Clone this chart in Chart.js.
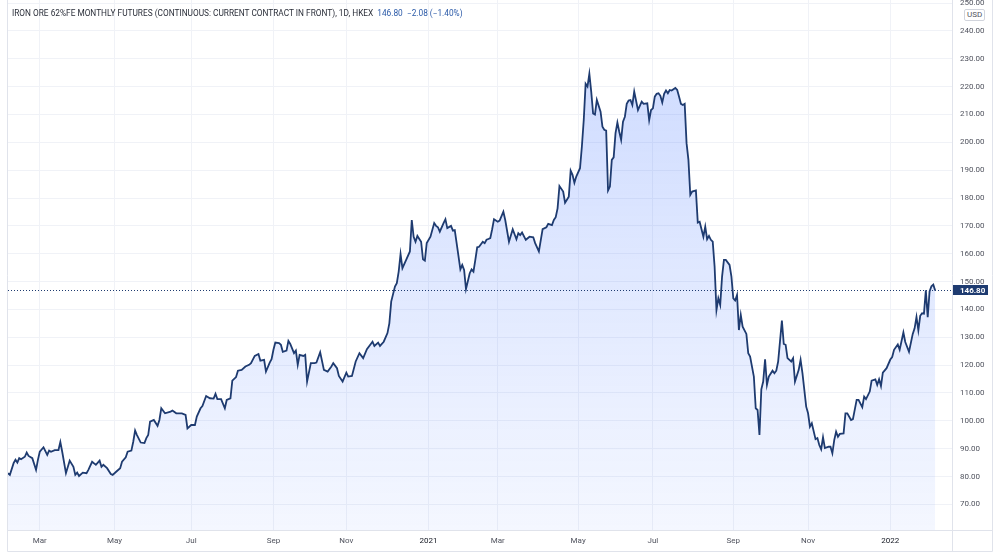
<!DOCTYPE html>
<html>
<head>
<meta charset="utf-8">
<script src="https://cdn.jsdelivr.net/npm/chart.js@4/dist/chart.umd.min.js"></script>
<style>
  html, body { margin: 0; padding: 0; background: #fff; }
  #wrap { position: relative; width: 1000px; height: 558px; }
  #title { position: absolute; left: 12px; top: 8px; font: 8.3px Roboto, sans-serif; color: #2a2e39; white-space: nowrap; }
  #title .quote { color: #2b5aa8; margin-left: 4px; }
  #usd { position: absolute; left: 964px; top: 9px; font: 8px Roboto, sans-serif; color: #50535e; background: #fff;
         border: 1px solid #d1d4dc; border-radius: 2px; padding: 0 2px; line-height: 10px; }
</style>
</head>
<body>
<div id="wrap">
  <canvas id="ironChart" width="1000" height="558"></canvas>
  <div id="title"></div>
  <div id="usd">USD</div>
</div>
<script>
// trading-session number (bar index from the first bar) and close price
const sessions = [0,1,3,4,5,6,7,9,10,11,13,15,16,17,19,21,22,23,25,27,28,29,31,33,35,36,37,38,40,42,43,45,47,49,50,51,53,55,56,58,60,61,63,64,66,67,68,69,71,73,74,75,76,78,80,81,82,84,87,88,90,93,95,96,98,100,101,103,104,106,108,110,111,112,114,116,117,119,120,122,123,125,127,129,130,132,134,135,137,138,140,141,142,143,145,146,147,149,150,151,153,154,155,156,158,159,160,162,164,165,167,169,171,173,174,176,177,179,181,182,184,186,188,190,192,195,196,198,199,201,203,204,205,207,208,209,210,211,213,215,216,217,218,219,221,222,223,224,226,228,229,230,231,233,234,235,237,238,239,240,242,243,244,245,247,248,249,250,251,252,254,255,256,257,258,259,260,262,263,265,266,268,270,272,273,274,275,277,279,281,282,284,286,288,289,291,292,293,294,295,297,298,300,301,302,303,304,306,307,308,309,310,311,312,313,314,315,317,318,319,320,321,322,323,324,325,326,327,328,329,330,331,332,333,334,335,337,338,339,340,342,343,344,345,346,347,348,349,350,351,352,353,354,355,357,358,359,360,361,362,363,364,365,366,368,369,370,372,373,374,375,376,377,378,379,380,381,382,383,384,386,387,388,389,390,391,392,393,395,396,397,399,400,401,402,403,404,405,406,407,409,410,411,412,414,415,416,417,419,420,421,423,424,425,427,428,429,430,432,433,434,435,436,437,439,440,441,442,443,444,445,447,448,449,451,452,454,455,457,458,459,461,462,464,465,466,467,468,470,472,473,474,476,477,479,480,482,484,485,486,487,488,489,490,491,492,493,494,495,496];
const prices = [81.2,80.6,84.8,86.0,85.0,86.6,86.2,87.1,88.6,87.4,86.6,82.4,86.0,88.9,90.5,87.8,89.3,88.9,89.5,89.5,92.4,88.9,81.2,85.7,83.5,80.6,81.4,80.2,81.4,81.2,82.4,85.3,84.2,85.7,83.5,84.2,83.0,80.9,80.6,81.8,83.0,85.3,86.9,88.9,89.3,92.5,96.5,94.9,92.2,92.0,93.8,94.9,99.7,100.3,98.2,100.3,104.5,102.7,103.3,103.7,102.7,102.7,102.1,97.3,98.5,98.5,101.5,104.5,105.3,108.9,108.1,108.0,109.7,107.8,107.8,104.5,107.5,108.1,114.4,115.7,118.0,118.3,119.5,120.1,120.7,123.3,124.0,121.6,121.9,117.7,120.9,122.1,125.5,128.1,127.9,127.3,124.8,125.2,128.7,127.6,124.3,125.2,120.1,123.7,123.3,123.7,114.1,120.7,120.7,120.9,124.6,118.3,117.7,119.5,120.7,118.9,116.1,114.1,117.3,115.9,116.1,121.3,124.3,122.5,125.7,128.4,126.9,128.1,126.9,128.4,131.5,135.0,142.8,148.2,149.4,153.6,159.9,154.8,157.8,160.8,172.1,166.1,164.3,166.4,164.3,158.0,157.5,163.8,166.1,171.0,170.0,169.5,167.9,171.0,172.4,169.2,170.0,168.3,168.5,163.8,154.4,156.0,154.2,147.3,153.0,154.4,153.6,157.8,162.3,162.5,164.3,163.8,165.0,165.3,165.6,168.8,172.4,171.5,171.9,175.1,172.1,164.3,168.8,165.2,167.4,166.7,167.6,165.0,166.1,165.9,163.8,160.8,168.8,169.5,170.7,170.3,172.1,173.1,176.3,184.3,182.3,178.3,180.5,189.8,188.3,185.5,187.7,190.7,198.5,208.0,221.0,220.0,224.6,218.2,210.4,210.0,215.2,211.0,205.6,204.5,204.2,182.7,184.1,193.7,194.6,203.3,207.1,203.8,200.9,207.4,209.2,213.8,215.0,215.2,213.4,218.2,211.6,213.1,214.6,213.8,214.0,208.0,211.6,212.2,216.4,217.4,217.6,216.7,214.3,217.4,218.6,217.6,218.8,218.6,219.5,218.8,216.4,213.8,213.4,213.8,199.7,193.7,181.1,182.3,182.7,171.2,171.5,166.1,169.7,165.2,166.4,165.0,164.3,155.4,139.8,144.0,141.6,151.8,157.8,157.8,156.0,151.8,144.0,143.2,145.2,132.6,138.0,133.8,131.2,124.3,123.1,115.9,104.5,103.9,94.9,111.3,114.1,122.1,112.9,115.9,118.0,117.1,118.0,121.3,136.0,127.6,127.3,122.5,121.3,122.5,114.1,118.3,121.9,117.1,105.1,102.7,97.9,99.1,93.4,93.8,91.3,89.8,94.1,90.2,90.7,90.7,88.4,93.1,96.1,94.3,95.3,95.5,102.7,102.7,100.3,100.6,107.5,107.5,104.9,108.7,107.8,110.5,114.4,114.9,112.9,114.9,112.5,117.3,118.9,122.0,122.9,125.5,127.4,125.5,131.7,128.3,124.8,131.2,133.2,137.3,132.5,137.7,138.6,138.5,146.9,137.2,146.5,148.3,148.9,146.8];

// first session of each labelled month
const tickSessions = [17, 57, 98, 142, 181, 225, 262, 305, 345, 388, 428, 472];
const tickLabels = ['Mar', 'May', 'Jul', 'Sep', 'Nov', '2021', 'Mar', 'May', 'Jul', 'Sep', 'Nov', '2022'];
const priceTicks = [70, 80, 90, 100, 110, 120, 130, 140, 150, 160, 170, 180, 190, 200, 210, 220, 230, 240, 250];

const lastPrice = 146.80;
const change = -2.08;
const changePct = -1.40;

const NAVY = '#1e3b70';

const minus = v => (v < 0 ? '\u2212' : '+') + Math.abs(v).toFixed(2);
document.getElementById('title').innerHTML =
    'IRON ORE 62%FE MONTHLY FUTURES (CONTINUOUS: CURRENT CONTRACT IN FRONT), 1D, HKEX' +
    `<span class="quote">${lastPrice.toFixed(2)}&nbsp; ${minus(change)} (${minus(changePct)}%)</span>`;

const panelLines = {
    id: 'panelLines',
    afterDatasetsDraw(chart) {
        const { ctx, chartArea } = chart;
        const y = chart.scales.y.getPixelForValue(lastPrice);
        ctx.save();
        ctx.strokeStyle = NAVY;
        ctx.lineWidth = 1;
        ctx.setLineDash([1, 2]);
        ctx.beginPath();
        ctx.moveTo(chartArea.left, Math.round(y) + 0.5);
        ctx.lineTo(chartArea.right, Math.round(y) + 0.5);
        ctx.stroke();
        ctx.restore();
    },
    afterDraw(chart) {
        const { ctx, chartArea } = chart;
        ctx.save();
        // frame and separators
        ctx.strokeStyle = '#e0e3eb';
        ctx.lineWidth = 1;
        ctx.beginPath();
        ctx.moveTo(7.5, 0); ctx.lineTo(7.5, 551.5);
        ctx.lineTo(992.5, 551.5); ctx.lineTo(992.5, 0);
        ctx.moveTo(7.5, chartArea.bottom + 0.5); ctx.lineTo(992.5, chartArea.bottom + 0.5);
        ctx.moveTo(chartArea.right + 0.5, 0); ctx.lineTo(chartArea.right + 0.5, 551.5);
        ctx.stroke();

        // last price tag
        const y = Math.round(chart.scales.y.getPixelForValue(lastPrice));
        ctx.fillStyle = NAVY;
        ctx.fillRect(chartArea.right + 1, y - 5, 35, 10);
        ctx.fillStyle = '#fff';
        ctx.font = 'bold 8px Roboto';
        ctx.textBaseline = 'middle';
        ctx.fillText(lastPrice.toFixed(2), chartArea.right + 8, y + 0.5);
        ctx.restore();
    }
};

new Chart(document.getElementById('ironChart'), {
    type: 'line',
    data: {
        datasets: [{
            data: sessions.map((s, i) => ({ x: s, y: prices[i] })),
            borderColor: NAVY,
            borderWidth: 1.8,
            pointRadius: 0,
            tension: 0,
            fill: 'start',
            backgroundColor(context) {
                const { ctx, chartArea, scales } = context.chart;
                if (!chartArea) return 'rgba(41,98,255,0.15)';
                const g = ctx.createLinearGradient(0, scales.y.getPixelForValue(225), 0, chartArea.bottom);
                g.addColorStop(0, 'rgba(41, 98, 255, 0.22)');
                g.addColorStop(1, 'rgba(41, 98, 255, 0.05)');
                return g;
            }
        }]
    },
    options: {
        responsive: false,
        animation: false,
        devicePixelRatio: 1,
        layout: { padding: { left: 8, right: 0, top: 0, bottom: 7 } },
        plugins: { legend: { display: false }, tooltip: { enabled: false } },
        scales: {
            x: {
                type: 'linear',
                min: 0,
                max: 505,
                afterFit(scale) {
                    scale.height = 21;
                    scale.paddingLeft = 0;
                    scale.paddingRight = 0;
                },
                afterBuildTicks(scale) { scale.ticks = tickSessions.map(v => ({ value: v })); },
                grid: { color: '#f0f2f7', drawTicks: false },
                border: { display: false },
                ticks: {
                    autoSkip: false,
                    maxRotation: 0,
                    padding: 6,
                    font: { family: 'Roboto', size: 8 },
                    color: ctx => /^\d/.test(tickLabels[tickSessions.indexOf(ctx.tick.value)]) ? '#131722' : '#50535e',
                    callback: v => tickLabels[tickSessions.indexOf(v)]
                }
            },
            y: {
                position: 'right',
                min: 60.8,
                max: 251.1,
                afterFit(scale) {
                    scale.width = 48;
                    scale.paddingTop = 0;
                    scale.paddingBottom = 0;
                },
                afterBuildTicks(scale) { scale.ticks = priceTicks.map(v => ({ value: v })); },
                grid: { color: '#f0f2f7', drawTicks: false },
                border: { display: false },
                ticks: {
                    padding: 8,
                    font: { family: 'Roboto', size: 8 },
                    color: '#50535e',
                    callback: v => v.toFixed(2)
                }
            }
        }
    },
    plugins: [panelLines]
});
</script>
</body>
</html>
